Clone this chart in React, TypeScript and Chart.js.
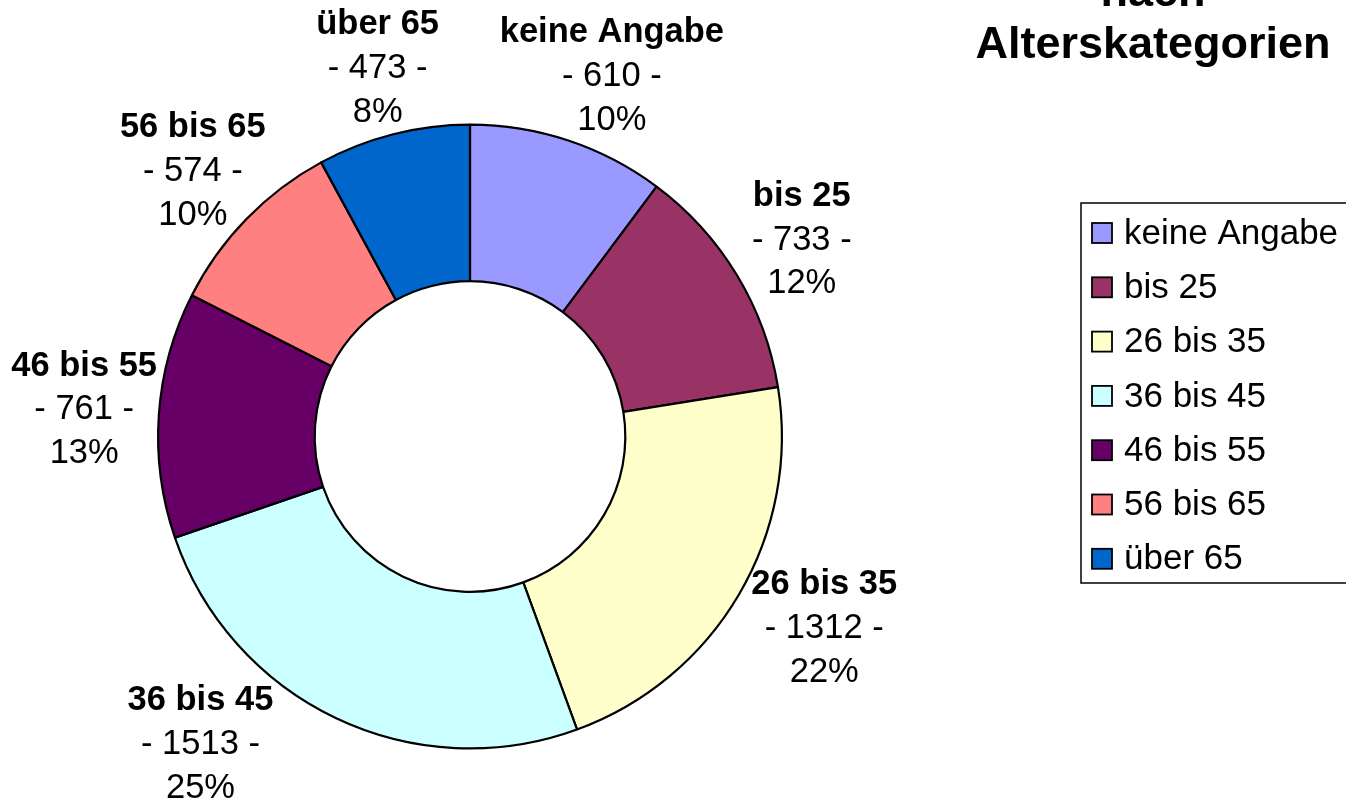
import React, { useEffect, useRef } from "react";
import { Chart, registerables } from "chart.js";

Chart.register(...registerables);

const categories = ["keine Angabe", "bis 25", "26 bis 35", "36 bis 45", "46 bis 55", "56 bis 65", "über 65"];
const counts = [610, 733, 1312, 1513, 761, 574, 473];
const colors = ["#9999FF", "#993366", "#FFFFCC", "#CCFFFF", "#660066", "#FF8080", "#0066CC"];
const titleLines = ["nach", "Alterskategorien"];

const FONT = '"Liberation Sans", Arial, Helvetica, sans-serif';
const W = 1346;
const H = 802;

const sliceLabelPlugin = {
  id: "sliceLabels",
  afterDatasetsDraw(chart: any) {
    const ctx = chart.ctx as CanvasRenderingContext2D;
    const meta = chart.getDatasetMeta(0);
    const data = chart.data.datasets[0].data as number[];
    const total = data.reduce((a, b) => a + b, 0);
    const size = 34.5;
    const lineH = 43.8;
    ctx.save();
    meta.data.forEach((arc: any, i: number) => {
      const { x, y, startAngle, endAngle, outerRadius } = arc.getProps(
        ["x", "y", "startAngle", "endAngle", "outerRadius"],
        true
      );
      const a = (startAngle + endAngle) / 2;
      const lines = [
        String(chart.data.labels[i]),
        `- ${data[i]} -`,
        `${Math.round((data[i] / total) * 100)}%`,
      ];
      const widths = lines.map((t, k) => {
        ctx.font = `${k === 0 ? "bold " : ""}${size}px ${FONT}`;
        return ctx.measureText(t).width;
      });
      const w = Math.max(...widths);
      const h = lineH * 3;
      const cos = Math.cos(a);
      const sin = Math.sin(a);
      const gap = 2;
      const sideShift = cos > 0 ? 24 * cos : 0;
      let cx = x + (outerRadius + gap) * cos + (cos * w) / 2 + sideShift;
      let cy = y + (outerRadius + gap) * sin + (sin * h) / 2;
      const minY = h / 2 - 8;
      const maxY = chart.height - h / 2 + 8;
      if (cy > maxY || cy < minY) {
        cy = Math.min(Math.max(cy, minY), maxY);
        const edgeY = cy > y ? cy - h / 2 : cy + h / 2;
        const dy = edgeY - y;
        const need = Math.sqrt(Math.max(outerRadius * outerRadius - dy * dy, 0));
        if (cos < 0) cx = Math.min(cx, x - need - w / 2);
        else cx = Math.max(cx, x + need + w / 2);
      }
      cx = Math.min(Math.max(cx, w / 2), chart.width - w / 2);
      ctx.fillStyle = "#000";
      ctx.textAlign = "center";
      ctx.textBaseline = "middle";
      lines.forEach((t, k) => {
        ctx.font = `${k === 0 ? "bold " : ""}${size}px ${FONT}`;
        ctx.fillText(t, cx, cy + (k - 1) * lineH);
      });
    });
    ctx.restore();
  },
};

const legendTitlePlugin = {
  id: "legendTitle",
  afterDraw(chart: any) {
    const ctx = chart.ctx as CanvasRenderingContext2D;
    ctx.save();
    // title
    ctx.fillStyle = "#000";
    ctx.textAlign = "center";
    ctx.textBaseline = "alphabetic";
    ctx.font = `bold 45px ${FONT}`;
    const titleX = 1153;
    titleLines.forEach((t, k) => {
      ctx.fillText(t, titleX, 6 + k * 52);
    });
    // legend box
    const boxL = 1081;
    const boxT = 203;
    const boxB = 583;
    ctx.strokeStyle = "#000";
    ctx.lineWidth = 1.5;
    ctx.strokeRect(boxL, boxT, chart.width - boxL + 20, boxB - boxT);
    const labels = chart.data.labels as string[];
    const bg = chart.data.datasets[0].backgroundColor as string[];
    const firstY = 233;
    const step = 54.3;
    ctx.textAlign = "left";
    ctx.textBaseline = "middle";
    ctx.font = `35px ${FONT}`;
    labels.forEach((lab, i) => {
      const cy = firstY + i * step;
      ctx.fillStyle = bg[i];
      ctx.fillRect(1092, cy - 10, 20, 20);
      ctx.strokeStyle = "#000";
      ctx.lineWidth = 1.8;
      ctx.strokeRect(1092, cy - 10, 20, 20);
      ctx.fillStyle = "#000";
      ctx.fillText(lab, 1124, cy + 1);
    });
    ctx.restore();
  },
};

export default function App() {
  const ref = useRef<HTMLCanvasElement | null>(null);
  useEffect(() => {
    document.body.style.margin = "0";
    const canvas = ref.current;
    if (!canvas) return;
    const chart = new Chart(canvas, {
      type: "doughnut",
      data: {
        labels: categories,
        datasets: [
          {
            data: counts,
            backgroundColor: colors,
            borderColor: "#000",
            borderWidth: 2.2,
          },
        ],
      },
      options: {
        responsive: false,
        maintainAspectRatio: false,
        animation: false,
        cutout: "49.8%",
        layout: { padding: { left: 157, right: 563, top: 123, bottom: 52 } },
        plugins: {
          legend: { display: false },
          tooltip: { enabled: false },
          title: { display: false },
        },
      },
      plugins: [sliceLabelPlugin, legendTitlePlugin],
    });
    return () => chart.destroy();
  }, []);
  return (
    <div style={{ position: "absolute", left: 0, top: 0, width: W, height: H, background: "#fff" }}>
      <canvas ref={ref} width={W} height={H} style={{ display: "block", width: W, height: H }} />
    </div>
  );
}
